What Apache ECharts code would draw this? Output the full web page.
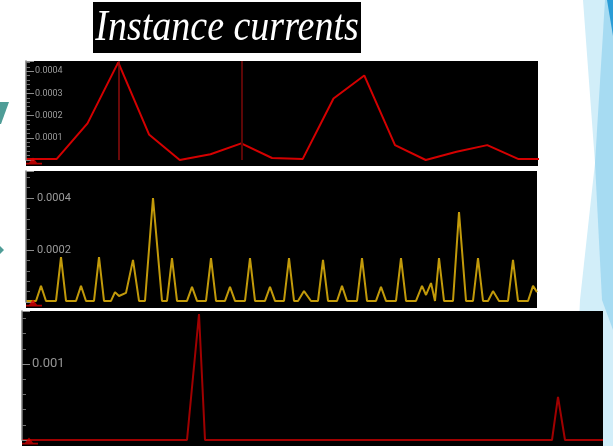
<!DOCTYPE html>
<html><head><meta charset="utf-8">
<script src="https://cdn.jsdelivr.net/npm/echarts@6/dist/echarts.min.js"></script>
<style>html,body{margin:0;padding:0;background:#fff}#c{width:613px;height:446px}</style>
</head><body><div id="c"></div>
<script>
// ---------------- data ----------------
const titleText = 'Instance currents';

// panel 1 (red, sampled points)
const panel1Index = [0,1,2,3,4,5,6,7,8,9,10,11,12,13,14,15,16,17];
const panel1Current = [0.000005,0.000005,0.000165,0.000440,0.000115,0.000000,0.000026,0.000075,0.000009,0.000005,0.000277,0.000381,0.000067,0.000000,0.000037,0.000067,0.000005,0.000005];
const panel1Markers = [3, 7];
const panel1TickLabels = [0.0001, 0.0002, 0.0003, 0.0004];

// panel 2 (golden trace)
const panel2Time = [0,10,15,20,30,35,40,50,55,60,68,73,78,85,89,93,100,107,113,119,127,136,141,146,151,161,166,171,180,185,190,199,204,209,219,224,229,239,244,249,258,263,268,272,278,285,292,297,302,311,316,321,331,336,341,350,355,360,370,375,380,390,396,400,405,409,413,418,427,433,440,447,452,457,462,467,473,482,487,492,502,507,511];
const panel2Current = [0.000004,0.000004,0.000062,0.000004,0.000004,0.000173,0.000004,0.000004,0.000062,0.000004,0.000004,0.000173,0.000004,0.000004,0.000038,0.000023,0.000035,0.000162,0.000004,0.000004,0.000400,0.000004,0.000004,0.000169,0.000004,0.000004,0.000058,0.000004,0.000004,0.000169,0.000004,0.000004,0.000058,0.000004,0.000004,0.000169,0.000004,0.000004,0.000058,0.000004,0.000004,0.000169,0.000004,0.000004,0.000042,0.000004,0.000004,0.000162,0.000004,0.000004,0.000062,0.000004,0.000004,0.000169,0.000004,0.000004,0.000058,0.000004,0.000004,0.000169,0.000004,0.000004,0.000062,0.000027,0.000073,0.000004,0.000169,0.000004,0.000004,0.000346,0.000004,0.000004,0.000169,0.000004,0.000004,0.000042,0.000004,0.000004,0.000162,0.000004,0.000004,0.000062,0.000038];
const panel2TickLabels = [0.0002, 0.0004];

// panel 3 (dark red trace)
const panel3Time = [0,165,177,183,530,536,543,581];
const panel3Current = [0,0,0.001658,0,0,0.000566,0,0];
const panel3TickLabels = [0.001];

// ---------------- chart ----------------
const chart = echarts.init(document.getElementById('c'), null, {renderer:'canvas'});

function yAxisFor(gi, max, interval, fontSize, margin, labels, labelColor){
  return {
    type:'value', gridIndex:gi, min:0, max:max, interval:interval, z:5,
    axisLine:{show:true, lineStyle:{color:'#7c7c7c', width:1.5}},
    axisTick:{show:true, inside:true, length:8, lineStyle:{color:'#8c8c8c', width:1}},
    minorTick:{show:true, splitNumber:5, length:4, lineStyle:{color:'#707070', width:1}},
    splitLine:{show:false}, minorSplitLine:{show:false},
    axisLabel:{inside:true, margin:margin, fontSize:fontSize, color:labelColor, fontFamily:'Roboto',
      showMaxLabel:false, showMinLabel:false,
      formatter:function(v){ const m = labels.find(t=>Math.abs(t-v)<1e-10); return m===undefined?'':String(m); }}
  };
}
function xAxisFor(gi, max){
  return {type:'value', gridIndex:gi, min:0, max:max, show:false};
}
const originSymbol = 'path://M0,5 L16,5 L16,6.6 L0,6.6 Z M3,5 L7,0 L11,5 Z';
function originMarker(gi, color){
  return {type:'scatter', xAxisIndex:gi, yAxisIndex:gi, data:[[0,0]], symbol:originSymbol,
    symbolSize:[16,7], symbolOffset:[8,1], itemStyle:{color:color}, clip:false, silent:true, z:6};
}

const option = {
  animation:false,
  backgroundColor:'#ffffff',
  grid:[
    {left:26, top:61, width:512, height:99, show:false},
    {left:26, top:171, width:511, height:131, show:false},
    {left:22, top:311, width:581, height:129, show:false}
  ],
  xAxis:[ xAxisFor(0, 16.65), xAxisFor(1, 511), xAxisFor(2, 581) ],
  yAxis:[
    yAxisFor(0, 0.000446, 0.0001, 9, 9, panel1TickLabels, '#9c9c9c'),
    yAxisFor(1, 0.000504, 0.0002, 11, 11, panel2TickLabels, '#9c9c9c'),
    yAxisFor(2, 0.0016974, 0.001, 13, 10, panel3TickLabels, '#959595')
  ],
  graphic:{elements:[
    // slide decoration (right)
    {type:'polygon', z:0, shape:{points:[[583,0],[613,0],[613,446],[573,446],[580,300],[595,163]]}, style:{fill:'#d2eef9'}},
    {type:'polygon', z:0, shape:{points:[[605,0],[613,0],[613,330],[602,300],[595,163]]}, style:{fill:'#a6dbf2'}},
    {type:'polygon', z:0, shape:{points:[[607,0],[613,0],[613,36]]}, style:{fill:'#2a9cd6'}},
    // slide decoration (left)
    {type:'polygon', z:0, shape:{points:[[0,102],[9,102],[1,124],[0,124]]}, style:{fill:'#4f9d97'}},
    {type:'polygon', z:0, shape:{points:[[0,246],[4,250],[0,254]]}, style:{fill:'#4f9d97'}},
    // title
    {type:'rect', z:1, shape:{x:93, y:2, width:268, height:51}, style:{fill:'#000'}},
    {type:'text', z:2, x:227, y:29, scaleY:1.15,
      style:{text:titleText, fill:'#fff', font:'italic 38px "Liberation Serif"', textAlign:'center', textVerticalAlign:'middle'}},
    // panel backgrounds
    {type:'rect', z:1, shape:{x:26, y:61, width:512, height:105}, style:{fill:'#000'}},
    {type:'rect', z:1, shape:{x:26, y:171, width:511, height:137}, style:{fill:'#000'}},
    {type:'rect', z:1, shape:{x:22, y:311, width:581, height:135}, style:{fill:'#000'}}
  ]},
  series:[
    {type:'line', xAxisIndex:0, yAxisIndex:0, z:4,
      data: panel1Index.map((x,i)=>[x, panel1Current[i]]),
      showSymbol:false, lineStyle:{color:'#d40000', width:2}, clip:true,
      markLine:{silent:true, symbol:['none','none'], label:{show:false}, animation:false,
        data: panel1Markers.map((x,i)=>({xAxis:x, lineStyle:{color: i===0?'#8e0c0c':'#5c0606', width: i===0?1.5:2, type:'solid'}}))}
    },
    {type:'line', xAxisIndex:1, yAxisIndex:1, z:4,
      data: panel2Time.map((t,i)=>[t, panel2Current[i]]),
      showSymbol:false, lineStyle:{color:'#c29a0a', width:2}, clip:true},
    {type:'line', xAxisIndex:2, yAxisIndex:2, z:4,
      data: panel3Time.map((t,i)=>[t, panel3Current[i]]),
      showSymbol:false, lineStyle:{color:'#a00000', width:2}, clip:true},
    originMarker(0, '#e00000'),
    originMarker(1, '#e00000'),
    originMarker(2, '#d00000')
  ]
};
chart.setOption(option);
</script>
</body></html>
